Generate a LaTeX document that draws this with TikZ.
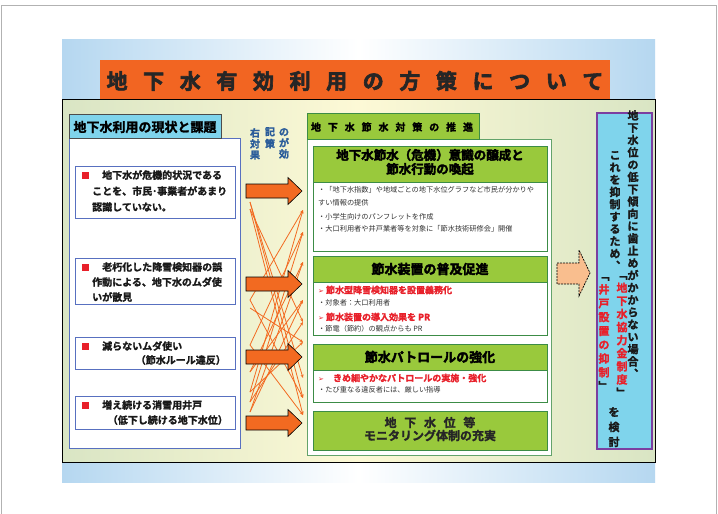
\documentclass[tikz,border=0pt]{standalone}
\usepackage{fontspec}
\setmainfont{Noto Sans CJK JP}
\newfontfamily\jb{Noto Sans CJK JP Bold}[FakeBold=1.6]
\newfontfamily\jbk{Noto Sans CJK JP Bold}[FakeBold=2.8]
\newfontfamily\sym{DejaVu Sans}
\usetikzlibrary{arrows.meta}
\definecolor{torange}{HTML}{F26522}
\definecolor{aorange}{HTML}{F26A21}
\definecolor{lime}{HTML}{99C93C}
\definecolor{dgreen}{HTML}{3C8C46}
\definecolor{cyanh}{HTML}{7FD4EC}
\definecolor{jred}{HTML}{E8202A}
\definecolor{bluebd}{HTML}{5870C0}
\definecolor{purp}{HTML}{7B3FA0}
\definecolor{peach}{HTML}{F9BE8E}
\definecolor{skyb}{HTML}{B5D7F0}
\definecolor{navy}{HTML}{2A5C9A}
\definecolor{pgreen}{HTML}{D9E5C4}
\definecolor{cream}{HTML}{FDF9D6}
\newcommand\titlegap{\hspace{15.6pt}}
\newcommand\headgap{\hspace{6.9pt}}
\newcommand\levgap{\hspace{7.7pt}}
\newcommand\rbul{\textcolor{jred}{\rule{6.5pt}{6.5pt}}\hspace{13.5pt}}
\newcommand\rarr{{\sym\fontsize{7}{8}\selectfont ➢}}
\newcommand\rc[1]{\textcolor{jred}{#1}}
\newcommand\bigarrowat[1]{\draw[bigarr] (246,{#1-7}) -- (288,{#1-7}) -- (288,{#1-13.5}) -- (302,#1) -- (288,{#1+13.5}) -- (288,{#1+7}) -- (246,{#1+7}) -- cycle;}
\tikzset{
  txt/.style={inner sep=0pt, anchor=west},
  ltxt/.style={txt, font=\jb\fontsize{10}{10}\selectfont, text=black!90},
  gtxt/.style={txt, font=\fontsize{7.2}{8}\selectfont, text=black!80},
  rtxt/.style={txt, font=\jb\fontsize{9}{10}\selectfont, text=jred},
  xline/.style={draw=aorange, line width=0.8pt, -{Stealth[length=3.5pt,width=3pt]}},
  bigarr/.style={draw=black, fill=aorange, line width=0.6pt},
  lbox/.style={draw=bluebd, line width=1pt, fill=white, inner sep=0pt, anchor=north west},
  gbox/.style={draw=dgreen, line width=1.1pt, fill=white, inner sep=0pt, anchor=north west},
  ghead/.style={draw=dgreen, line width=1.1pt, fill=lime, inner sep=0pt, anchor=north west},
  vcol/.style={inner sep=0pt, anchor=north, align=center, font=\jb\fontsize{11}{12.3}\selectfont, text=black!90},
}
\begin{document}
\begin{tikzpicture}[x=1pt,y=-1pt]
\useasboundingbox (0,0) rectangle (718,514);
\fill[white] (0,0) rectangle (718,514);
\draw[gray!60, line width=0.8pt] (1,514) -- (1,5) -- (716,5) -- (716,514);
% slide background
\shade[left color=skyb, right color=skyb, middle color=white] (62,39) rectangle (655,482);
% main panel
\shade[left color=pgreen, right color=pgreen, middle color=cream] (62,99) rectangle (655,462);
\draw[black, line width=0.9pt] (62,99) rectangle (655,462);
% title
\node[fill=torange, minimum width=510pt, minimum height=39pt, inner sep=0pt, anchor=north west] (titlebar) at (100,60) {};
\node[inner sep=0pt, font=\jbk\fontsize{21}{21}\selectfont, text=black!85] (title) at (355,81) {地\titlegap 下\titlegap 水\titlegap 有\titlegap 効\titlegap 利\titlegap 用\titlegap の\titlegap 方\titlegap 策\titlegap に\titlegap つ\titlegap い\titlegap て};
% left panel
\node[draw=bluebd, line width=0.8pt, fill=white, minimum width=171pt, minimum height=310pt, inner sep=0pt, anchor=north west] (lpanel) at (69,138) {};
\node[draw=black!70, line width=0.8pt, fill=cyanh, minimum width=152pt, minimum height=24pt, inner sep=0pt, anchor=north west] (lhead) at (69,114) {};
\node[inner sep=0pt, font=\jb\fontsize{13}{13}\selectfont] (lheadt) at (145,127) {地下水利用の現状と課題};
% left boxes
\node[lbox, minimum width=160pt, minimum height=52pt] (b1) at (75,166) {};
\node[lbox, minimum width=160pt, minimum height=46pt] (b2) at (75,258) {};
\node[lbox, minimum width=160pt, minimum height=32pt] (b3) at (75,337) {};
\node[lbox, minimum width=160pt, minimum height=33pt] (b4) at (75,396) {};
\node[ltxt] (b1a) at (82,175) {\rbul 地下水が危機的状況である};
\node[ltxt] (b1b) at (92,191) {ことを、市民･事業者があまり};
\node[ltxt] (b1c) at (92,207) {認識していない。};
\node[ltxt] (b2a) at (82,267) {\rbul 老朽化した降雪検知器の誤};
\node[ltxt] (b2b) at (92,282) {作動による、地下水のムダ使};
\node[ltxt] (b2c) at (92,297) {いが散見};
\node[ltxt] (b3a) at (82,346) {\rbul 減らないムダ使い};
\node[ltxt, anchor=east] (b3b) at (226,360) {（節水ルール違反）};
\node[ltxt] (b4a) at (82,405) {\rbul 増え続ける消雪用井戸};
\node[ltxt, anchor=east] (b4b) at (228,420) {（低下し続ける地下水位）};
% small vertical text
\node[vcol, font=\jb\fontsize{10}{11}\selectfont, text=navy] (v1) at (255,128) {右\\対\\果};
\node[vcol, font=\jb\fontsize{10}{12}\selectfont, text=navy] (v2) at (270,127) {記\\策};
\node[vcol, font=\jb\fontsize{10}{11}\selectfont, text=navy] (v3) at (284,128) {の\\が\\効};
% crossing lines
\coordinate (l1) at (250,202); \coordinate (l2) at (250,209);
\coordinate (l3) at (250,300); \coordinate (l4) at (250,308);
\coordinate (l5) at (250,345); \coordinate (l6) at (250,372);
\coordinate (l7) at (250,392); \coordinate (l8) at (250,402);
\coordinate (l9) at (250,412);
\coordinate (r1) at (303,210); \coordinate (r2) at (303,232);
\coordinate (r3) at (303,262); \coordinate (r4) at (303,300);
\coordinate (r5) at (303,322); \coordinate (r6) at (303,342);
\coordinate (r7) at (303,378); \coordinate (r8) at (303,398);
\coordinate (r9) at (303,415);
\foreach \a/\b in {l1/r7,l1/r8,l2/r5,l2/r9,l3/r1,l3/r8,l4/r6,l5/r2,l5/r9,l6/r3,l6/r4,l7/r1,l7/r6,l8/r2,l8/r5,l9/r4,l9/r3}
  \draw[xline] (\a) -- (\b);
% big arrows
\bigarrowat{191}
\bigarrowat{284}
\bigarrowat{357}
\bigarrowat{423}
% middle panel
\node[draw=dgreen!80, line width=1.2pt, fill=white, minimum width=244pt, minimum height=316pt, inner sep=0pt, anchor=north west] (mpanel) at (307,139) {};
\node[draw=dgreen, line width=1pt, fill=lime, minimum width=172pt, minimum height=26pt, inner sep=0pt, anchor=north west] (mhead) at (307,113) {};
\node[inner sep=0pt, font=\jb\fontsize{10}{10}\selectfont] (mheadt) at (392,127) {地\headgap 下\headgap 水\headgap 節\headgap 水\headgap 対\headgap 策\headgap の\headgap 推\headgap 進};
% green box 1
\node[gbox, minimum width=234pt, minimum height=105pt] (g1) at (313,146) {};
\node[ghead, minimum width=234pt, minimum height=36pt] (g1h) at (313,146) {};
\node[inner sep=0pt, align=center, font=\jbk\fontsize{12.5}{14}\selectfont] (g1t) at (430,162) {地下水節水（危機）意識の醸成と\\節水行動の喚起};
\node[gtxt] (g1a) at (318,190) {・「地下水指数」や地域ごとの地下水位グラフなど市民が分かりや};
\node[gtxt] (g1b) at (318,203) {すい情報の提供};
\node[gtxt] (g1c) at (318,217) {・小学生向けのパンフレットを作成};
\node[gtxt] (g1d) at (318,229) {・大口利用者や井戸業者等を対象に「節水技術研修会」開催};
% green box 2
\node[gbox, minimum width=234pt, minimum height=79pt] (g2) at (313,256) {};
\node[ghead, minimum width=234pt, minimum height=26pt] (g2h) at (313,256) {};
\node[inner sep=0pt, font=\jbk\fontsize{13}{13}\selectfont] (g2t) at (430,269) {節水装置の普及促進};
\node[rtxt] (g2a) at (318,290) {\rarr\hspace{2pt}節水型降雪検知器を設置義務化};
\node[gtxt] (g2b) at (318,303) {・対象者：大口利用者};
\node[rtxt] (g2c) at (318,317) {\rarr\hspace{2pt}節水装置の導入効果を PR};
\node[gtxt] (g2d) at (318,329) {・節電（節約）の観点からも PR};
% green box 3
\node[gbox, minimum width=234pt, minimum height=58pt] (g3) at (313,344) {};
\node[ghead, minimum width=234pt, minimum height=26pt] (g3h) at (313,344) {};
\node[inner sep=0pt, font=\jbk\fontsize{13}{13}\selectfont] (g3t) at (430,357) {節水パトロールの強化};
\node[rtxt] (g3a) at (318,378) {\rarr\hspace{9pt}きめ細やかなパトロールの実施・強化};
\node[gtxt] (g3b) at (318,390) {・たび重なる違反者には、厳しい指導};
% green box 4
\node[ghead, minimum width=234pt, minimum height=39pt] (g4) at (313,411) {};
\node[inner sep=0pt, align=center, font=\jb\fontsize{12}{13}\selectfont, text=black!85] (g4t) at (430,429) {地\levgap 下\levgap 水\levgap 位\levgap 等\\モニタリング体制の充実};
% dashed arrow
\draw[dashed, dash pattern=on 2pt off 1pt, fill=peach, line width=0.7pt] (557,263) -- (579,263) -- (579,250) -- (590,273) -- (579,296) -- (579,284) -- (557,284) -- cycle;
% right box
\node[draw=purp, line width=1.6pt, fill=cyanh, minimum width=55pt, minimum height=336pt, inner sep=0pt, anchor=north west] (rbox) at (596,112) {};
\node[vcol] (ca) at (633,110) {地\\下\\水\\位\\の\\低\\下\\傾\\向\\に\\歯\\止\\め\\が\\か\\か\\ら\\な\\い\\場\\合\\︑};
\node[vcol] (cb) at (615,151) {こ\\れ\\を\\抑\\制\\す\\る\\た\\め\\︑};
\node[vcol, font=\jb\fontsize{11}{13.1}\selectfont] (cc) at (622,276) {﹁\\\rc{地}\\\rc{下}\\\rc{水}\\\rc{協}\\\rc{力}\\\rc{金}\\\rc{制}\\\rc{度}\\﹂};
\node[vcol, font=\jb\fontsize{11}{13.8}\selectfont] (cd) at (604,277) {﹁\\\rc{井}\\\rc{戸}\\\rc{設}\\\rc{置}\\\rc{の}\\\rc{抑}\\\rc{制}\\﹂};
\node[vcol, font=\jb\fontsize{11}{15}\selectfont] (ce) at (614,407) {を\\検\\討};
\end{tikzpicture}
\end{document}
